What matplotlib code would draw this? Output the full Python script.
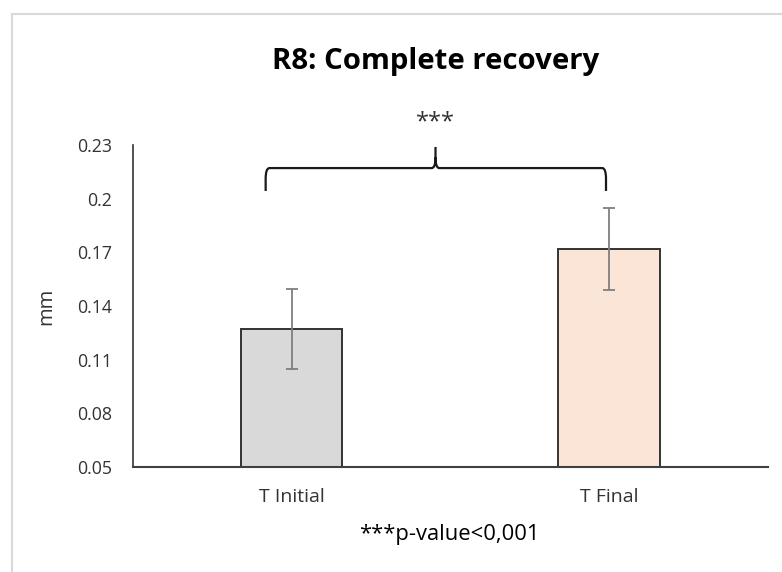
import matplotlib
matplotlib.use("Agg")
import matplotlib.pyplot as plt
from matplotlib.path import Path
from matplotlib.patches import PathPatch
from matplotlib.lines import Line2D

categories = ["T Initial", "T Final"]
means = [0.127, 0.172]
errors = [0.0225, 0.023]
colors = ["#d9d9d9", "#fbe5d6"]
yticks = [0.05, 0.08, 0.11, 0.14, 0.17, 0.2, 0.23]
ytick_labels = ["0.05", "0.08", "0.11", "0.14", "0.17", "0.2", "0.23"]

plt.rcParams['font.family'] = ['Open Sans', 'DejaVu Sans']

fig = plt.figure(figsize=(7.82, 5.72), dpi=100)
ax = fig.add_axes([0.170, 0.1836, 0.812, 0.5629])

x = list(range(len(categories)))
ax.bar(x, means, width=0.32, color=colors, edgecolor="#333333", linewidth=1.4, zorder=2)
ax.errorbar(x, means, yerr=errors, fmt="none", ecolor="#7f7f7f", elinewidth=1.3,
            capsize=4.5, capthick=1.3, zorder=3)

ax.set_xlim(-0.5, 1.5)
ax.set_ylim(0.05, 0.23)
ax.set_yticks(yticks)
ax.set_yticklabels(ytick_labels)
ax.set_xticks(x)
ax.set_xticklabels(categories)
ax.tick_params(axis="both", length=0, colors="#333333")
ax.tick_params(axis="x", pad=15, labelsize=14)
ax.tick_params(axis="y", pad=15, labelsize=12.8)
for s in ["top", "right"]:
    ax.spines[s].set_visible(False)
ax.spines["left"].set_color("#333333")
ax.spines["bottom"].set_color("#404040")
ax.spines["left"].set_linewidth(1.2)
ax.spines["bottom"].set_linewidth(1.5)

ax.set_ylabel("mm", fontsize=14.5, color="#333333")
ax.yaxis.set_label_coords(-0.12, 0.5)

# curly brace annotation
xl, xr, xm = -0.082, 0.99, 0.453
yb, yh, yp = 0.2043, 0.2171, 0.2289
r = 0.006
dx = 0.012
verts = [
    (xl, yb), (xl, yh - r), (xl, yh), (xl + dx, yh),
    (xm - dx, yh), (xm, yh), (xm, yh + r), (xm, yp),
    (xm, yh + r), (xm, yh), (xm + dx, yh),
    (xr - dx, yh), (xr, yh), (xr, yh - r), (xr, yb),
]
codes = [Path.MOVETO, Path.LINETO, Path.CURVE3, Path.CURVE3,
         Path.LINETO, Path.CURVE3, Path.CURVE3, Path.LINETO,
         Path.MOVETO, Path.CURVE3, Path.CURVE3,
         Path.LINETO, Path.CURVE3, Path.CURVE3, Path.LINETO]
ax.add_patch(PathPatch(Path(verts, codes), facecolor="none", edgecolor="#1a1a1a",
                       linewidth=1.6, clip_on=False, zorder=4))
ax.text(xm, 0.2425, "***", ha="center", va="center", fontsize=17, color="#333333",
        clip_on=False)

fig.text(0.5575, 0.892, "R8: Complete recovery", ha="center", va="center",
         fontsize=21.2, fontweight="bold", color="#000000")
fig.text(0.574, 0.0647, "***p-value<0,001", ha="center", va="center",
         fontsize=15.8, color="#000000")

# outer chart border (light grey)
fig.add_artist(Line2D([12/782, 12/782], [0, 1 - 14/572], transform=fig.transFigure,
                      color="#d9d9d9", linewidth=1.5))
fig.add_artist(Line2D([12/782, 1], [1 - 14/572, 1 - 14/572], transform=fig.transFigure,
                      color="#d9d9d9", linewidth=1.5))

fig.savefig("out.png", dpi=100)
